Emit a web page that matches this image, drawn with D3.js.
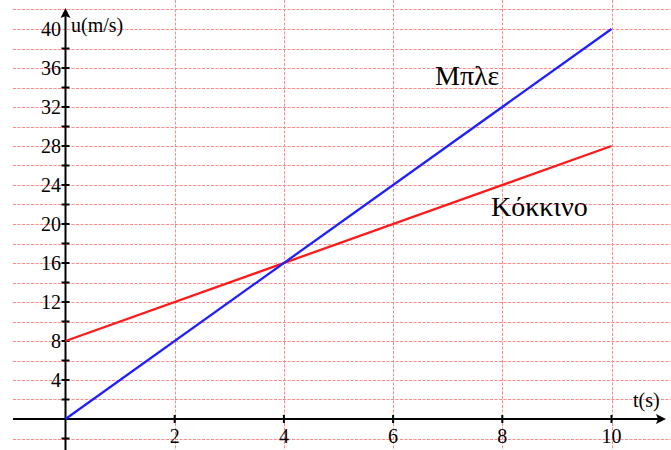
<!DOCTYPE html>
<html>
<head>
<meta charset="utf-8">
<script src="https://cdn.jsdelivr.net/npm/d3@7"></script>
<style>
  html, body { margin: 0; padding: 0; background: #fff; }
  #wrap { position: relative; width: 671px; height: 450px; overflow: hidden; }
  svg { display: block; position: absolute; left: 0; top: 0; }
</style>
</head>
<body>
<div id="wrap"><svg id="chart" width="671" height="450"></svg></div>
<script>
// ---- data ----
const timeValues = [0, 10];             // t (s)
const blueValues = [0, 40];             // Μπλε u(m/s)
const redValues = [8, 28];              // Κόκκινο u(m/s)
const xTickLabels = [2, 4, 6, 8, 10];
const yTickLabels = [4, 8, 12, 16, 20, 24, 28, 32, 36, 40];
const yTickMarks = [-2, 2, 4, 6, 8, 10, 12, 14, 16, 18, 20, 22, 24, 26, 28, 30, 32, 34, 36, 38];
const hGridValues = [-2, 0, 2, 4, 6, 8, 10, 12, 14, 16, 18, 20, 22, 24, 26, 28, 30, 32, 34, 36, 38, 40, 42];
const vGridValues = [2, 4, 6, 8, 10];
const seriesNames = ["Μπλε", "Κόκκινο"];
const axisTitles = ["u(m/s)", "t(s)"];

const svg = d3.select("#chart");
const wrap = d3.select("#wrap");
const x = d3.scaleLinear().domain([0, 10]).range([65.5, 611.5]);
const y = d3.scaleLinear().domain([0, 40]).range([419, 29]);

// grid
const grid = svg.append("g")
  .attr("stroke", "#ff6b6b")
  .attr("stroke-width", 1)
  .attr("stroke-dasharray", "3,1.5")
  .attr("opacity", 0.8);
grid.selectAll("line.h").data(hGridValues.filter(d => d !== 0)).join("line")
  .attr("class", "h")
  .attr("x1", 13).attr("x2", 671)
  .attr("y1", d => Math.round(y(d)) + 0.5).attr("y2", d => Math.round(y(d)) + 0.5);
grid.selectAll("line.v").data(vGridValues).join("line")
  .attr("class", "v")
  .attr("y1", 0).attr("y2", 450)
  .attr("x1", d => Math.round(x(d)) + 0.5).attr("x2", d => Math.round(x(d)) + 0.5);

// axes
const axes = svg.append("g").attr("stroke", "#000").attr("stroke-width", 2);
const x0 = x(0), y0 = y(0);
axes.append("line").attr("x1", 13).attr("x2", 660).attr("y1", y0).attr("y2", y0);
axes.append("line").attr("x1", x0).attr("x2", x0).attr("y1", 450).attr("y2", 14);
svg.append("path")
  .attr("d", `M666,${y0} L656,${y0 - 5} L658,${y0} L656,${y0 + 5} Z`)
  .attr("fill", "#000");
svg.append("path")
  .attr("d", `M${x0},8 L${x0 - 5},18 L${x0},16 L${x0 + 5},18 Z`)
  .attr("fill", "#000");

// tick marks
axes.selectAll("line.yt").data(yTickMarks).join("line")
  .attr("class", "yt")
  .attr("x1", x0 - 4).attr("x2", x0 + 4)
  .attr("y1", d => y(d)).attr("y2", d => y(d));
axes.selectAll("line.xt").data(xTickLabels).join("line")
  .attr("class", "xt")
  .attr("y1", y0 - 4).attr("y2", y0 + 4)
  .attr("x1", d => x(d)).attr("x2", d => x(d));

// lines
const line = d3.line().x(d => x(d[0])).y(d => y(d[1]));
svg.append("path")
  .datum(timeValues.map((t, i) => [t, redValues[i]]))
  .attr("d", line).attr("fill", "none").attr("stroke", "#ff1a1a").attr("stroke-width", 2.3);
svg.append("path")
  .datum(timeValues.map((t, i) => [t, blueValues[i]]))
  .attr("d", line).attr("fill", "none").attr("stroke", "#2020ff").attr("stroke-width", 2.3);

// HTML text labels with inline style (baseline ≈ 0.8375em below top at line-height 1)
function label(text, bx, by, size, anchor) {
  const shift = anchor === "end" ? "-100%" : anchor === "middle" ? "-50%" : "0";
  const top = by - 0.8375 * size;
  wrap.append("div")
    .attr("style", `font-family:'Liberation Serif', Tinos, 'Times New Roman', monospace; font-size:${size}px; ` +
                   `line-height:1; position:absolute; white-space:nowrap; color:#000; ` +
                   `left:${bx}px; top:${top}px; transform:translateX(${shift});`)
    .text(text);
}
yTickLabels.forEach(d => label(d, 61, y(d) + 7, 20, "end"));
xTickLabels.forEach(d => label(d, x(d), 443, 20, "middle"));
label(axisTitles[0], 71, 32, 20, "start");
label(axisTitles[1], 633, 407, 20, "start");
label(seriesNames[0], 435, 85, 28, "start");
label(seriesNames[1], 491, 216, 28, "start");
</script>
</body>
</html>
